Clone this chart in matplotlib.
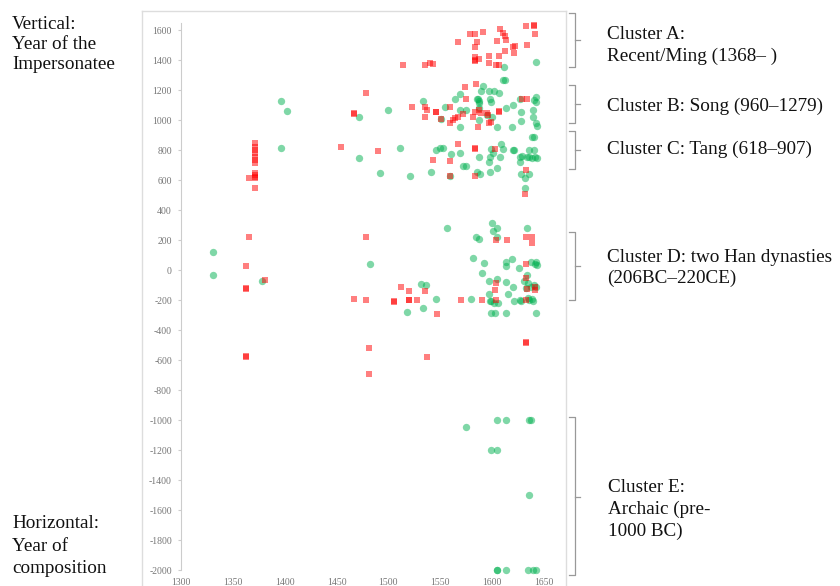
import matplotlib.pyplot as plt
from matplotlib.lines import Line2D

plt.rcParams["axes.unicode_minus"] = False

# year of composition (x) vs. year of the impersonatee (y)
red_x = [1633, 1640, 1640, 1641, 1634, 1608, 1610, 1591, 1579, 1583, 1567, 1585, 1583, 1612, 1613,
         1605, 1622, 1620, 1612, 1621, 1597, 1607, 1583, 1583, 1587, 1597, 1604, 1607, 1583, 1514,
         1535, 1540, 1543,
         1478, 1467, 1467, 1523, 1535, 1537, 1535, 1546, 1546, 1551, 1559, 1559, 1562, 1564, 1567,
         1574, 1575, 1584, 1583, 1587, 1589, 1582, 1595, 1596, 1607, 1607, 1597, 1599, 1586, 1629,
         1634, 1572,
         1371, 1371, 1371, 1371, 1371, 1371, 1371, 1371, 1371, 1371, 1371, 1366, 1371,
         1454, 1490, 1543, 1559, 1567, 1583, 1583, 1559, 1583, 1603, 1633, 1632,
         1366, 1363, 1363, 1363, 1381, 1363, 1363, 1478, 1467, 1478, 1481, 1481, 1505, 1505, 1512,
         1520, 1520, 1520, 1528, 1535, 1537, 1547, 1570, 1590, 1604, 1614, 1633, 1638, 1638, 1633,
         1604, 1603, 1604, 1633, 1634, 1641, 1641, 1633, 1633, 1633]
red_y = [1627, 1632, 1624, 1573, 1500, 1604, 1582, 1589, 1571, 1571, 1522, 1522, 1489, 1560, 1533,
         1527, 1496, 1489, 1460, 1449, 1427, 1427, 1422, 1400, 1404, 1378, 1364, 1364, 1393, 1367,
         1367, 1378, 1373,
         1178, 1040, 1044, 1084, 1084, 1067, 1022, 1056, 1053, 1004, 1084, 978, 1000, 1011, 1022,
         1222, 1138, 1240, 1056, 1067, 1044, 1022, 1049, 1033, 1056, 1060, 978, 989, 956, 1138,
         1138, 1040,
         844, 822, 800, 778, 755, 733, 711, 644, 633, 622, 611, 616, 549,
         822, 793, 733, 729, 840, 816, 810, 627, 627, 804, 667, 507,
         220, 27, -118, -129, -69, -578, -575, 220, -196, -202, -518, -695, -207, -210, -111,
         -140, -200, -198, -202, -138, -578, -296, -200, -200, 200, 198, 220, 220, 182, 42,
         -89, -133, -200, -56, -129, -111, -133, -202, -480, -484]

green_x = [1642, 1611,
           1610, 1612, 1591, 1589, 1597, 1602, 1607, 1569, 1564, 1585, 1586, 1587, 1587, 1598, 1599,
           1627, 1642, 1642, 1640, 1533, 1555, 1613, 1620, 1500, 1569, 1575, 1587, 1595, 1628, 1628,
           1639, 1639, 1642, 1643, 1472, 1587, 1600, 1569, 1605, 1619, 1396, 1402, 1551,
           1396, 1472, 1492, 1511, 1521, 1541, 1546, 1550, 1553, 1560, 1569, 1559, 1572, 1575, 1587,
           1585, 1588, 1597, 1599, 1601, 1598, 1605, 1598, 1609, 1610, 1608, 1620, 1621, 1638, 1640,
           1636, 1640, 1627, 1629, 1634, 1638, 1643, 1627, 1628, 1632, 1636, 1632, 1636, 1641,
           1331, 1331, 1378, 1482, 1556, 1600, 1601, 1605, 1605, 1584, 1587, 1634, 1582, 1592, 1613,
           1613, 1619, 1626, 1637, 1642, 1641, 1643, 1590, 1597, 1605, 1613, 1620, 1597, 1615, 1634,
           1631, 1635, 1640, 1642, 1633, 1637, 1635, 1638, 1531, 1536, 1533, 1518, 1546, 1580, 1598,
           1599, 1602, 1606, 1599, 1603, 1613, 1621, 1627, 1628, 1636, 1639, 1642,
           1575, 1605, 1613, 1636, 1637, 1599, 1605, 1636, 1605, 1605, 1613, 1635, 1639, 1642]
green_y = [1384, 1356,
           1267, 1267, 1227, 1193, 1195, 1195, 1182, 1171, 1138, 1138, 1140, 1130, 1116, 1138, 1122,
           1138, 1155, 1122, 1133, 1129, 1084, 1078, 1100, 1067, 1067, 1067, 1078, 1033, 1056, 996,
           1067, 1022, 978, 960, 1022, 1000, 1022, 951, 956, 956, 1129, 1062, 1004,
           816, 749, 649, 816, 627, 656, 800, 811, 816, 773, 778, 627, 693, 693, 755,
           656, 638, 722, 807, 778, 755, 678, 656, 838, 804, 755, 800, 800, 884, 884,
           800, 800, 755, 760, 751, 744, 744, 722, 640, 611, 640, 549, 755, 751,
           122, -33, -73, 42, 278, 316, 260, 278, 220, 222, 204, 278, 82, 49, 56,
           27, 71, 16, 56, 56, 38, 33, -22, -73, -58, -80, -113, -158, -158, -36,
           -73, -84, -102, -111, -118, -111, -184, -196, -91, -102, -251, -280, -196, -196, -207,
           -207, -218, -218, -284, -284, -284, -207, -202, -207, -202, -207, -284,
           -1044, -1002, -1002, -1002, -1002, -1202, -1202, -1502, -2002, -2000, -2002, -2000, -2000, -2000]

y_ticks = list(range(-2000, 1601, 200))
x_ticks = list(range(1300, 1651, 50))

# cluster brackets: (top, bottom, middle) in y units, and their labels
brackets = [(1715, 1356, 1536), (1233, 978, 1105), (929, 673, 800), (253, -200, 26), (-978, -2033, -1511)]
cluster_labels = [
    (607, 33, "Cluster A:"), (607, 55, "Recent/Ming (1368\u2013 )"),
    (607, 105, "Cluster B: Song (960\u20131279)"),
    (607, 148, "Cluster C: Tang (618\u2013907)"),
    (607, 256, "Cluster D: two Han dynasties"), (607, 277, "(206BC\u2013220CE)"),
    (608, 486, "Cluster E:"), (608, 508, "Archaic (pre-"), (608, 530, "1000 BC)"),
]
side_labels = [
    (12, 23, "Vertical:"), (12, 43, "Year of the"), (12, 63, "Impersonatee"),
    (12, 522, "Horizontal:"), (12, 545, "Year of"), (12, 567, "composition"),
]

W, H = 840, 586
serif = "Liberation Serif"

fig = plt.figure(figsize=(W / 100, H / 100), dpi=100)
ax = fig.add_axes([181 / W, 1 - 575 / H, 363 / W, 555 / H])
ax.set_xlim(1300, 1650)
ax.set_ylim(-2033, 1667)

ax.scatter(green_x, green_y, s=28, marker="o", color="#00b050", alpha=0.5, linewidths=0)
ax.scatter(red_x, red_y, s=20, marker="s", color="#ff0000", alpha=0.5, linewidths=0)

for side in ["top", "right", "bottom"]:
    ax.spines[side].set_visible(False)
ax.spines["left"].set_color("#cccccc")
ax.spines["left"].set_bounds(-2000, 1650)

ax.set_yticks(y_ticks)
ax.set_xticks(x_ticks)
ax.tick_params(axis="y", length=2.5, color="#cccccc", labelcolor="#777777", labelsize=7, pad=4)
ax.tick_params(axis="x", length=0, labelcolor="#777777", labelsize=7, pad=2)
for lab in ax.get_xticklabels() + ax.get_yticklabels():
    lab.set_fontfamily(serif)

# light grey frame round the chart area
frame = dict(color="#dddddd", lw=1, transform=fig.transFigure)
fig.add_artist(Line2D([142 / W, 142 / W], [0, 1 - 11 / H], **frame))
fig.add_artist(Line2D([566 / W, 566 / W], [0, 1 - 11 / H], **frame))
fig.add_artist(Line2D([142 / W, 566 / W], [1 - 11 / H, 1 - 11 / H], **frame))

tr = ax.get_yaxis_transform()
x0, x1, x2 = 1.068, 1.085, 1.098
for top, bot, mid in brackets:
    ax.plot([x0, x1, x1, x0], [top, top, bot, bot], color="#999999", lw=0.9,
            transform=tr, clip_on=False)
    ax.plot([x1, x2], [mid, mid], color="#999999", lw=0.9, transform=tr, clip_on=False)

for px, py, txt in cluster_labels + side_labels:
    fig.text(px / W, 1 - (py + 6) / H, txt, fontsize=13.8, family=serif, va="baseline",
             ha="left", color="#111111")

fig.savefig("out.png", dpi=100)
